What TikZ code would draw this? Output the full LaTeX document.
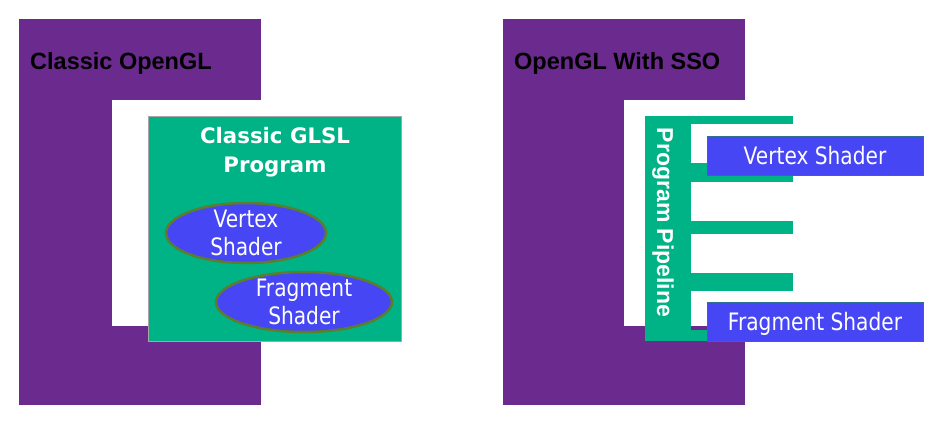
\documentclass[tikz,border=0pt]{standalone}
\usepackage{fontspec}
\setmainfont{Liberation Sans}
\newfontfamily\tahfont[FakeStretch=0.84]{DejaVu Sans}
\newfontfamily\verfont{DejaVu Sans}
\usetikzlibrary{shapes.geometric}
\definecolor{GLPURPLE}{HTML}{6A2A8E}
\definecolor{GLGREEN}{HTML}{00B386}
\definecolor{GLBLUE}{HTML}{4646F5}
\definecolor{GLOLIVE}{HTML}{5B7D2C}
\definecolor{GLEDGE}{HTML}{2F6F8F}

\begin{document}
\begin{tikzpicture}[x=1pt, y=-1pt,
  ctitle/.style={anchor=base west, font=\fontsize{23.5}{28}\selectfont\bfseries, text=black, inner sep=0pt},
  progbox/.style={draw=black!35, line width=0.8pt, fill=GLGREEN, rectangle,
    minimum width=253pt, minimum height=225pt, inner sep=0pt},
  shaderell/.style={ellipse, draw=GLOLIVE, line width=2.5pt, fill=GLBLUE, text=white,
    minimum height=60pt, inner sep=-5pt, align=center, font=\tahfont\fontsize{24}{28}\selectfont},
  shaderbox/.style={rectangle, draw=GLEDGE, line width=0.8pt, fill=GLBLUE, text=white,
    minimum width=216pt, minimum height=39pt, inner sep=0pt, text height=18pt, text depth=0pt,
    font=\tahfont\fontsize{24}{28}\selectfont}
]
\useasboundingbox (0,0) rectangle (951,431);

% classic opengl
\fill[GLPURPLE] (19,19) rectangle (261,405);
\fill[white] (112,100) rectangle (261,326);
\node[ctitle] (classictitle) at (30,69) {Classic OpenGL};

\node[progbox] (glsl) at (274.5,228.5) {};
\node[text=white, align=center, inner sep=0pt,
  font=\verfont\fontsize{21.3}{29}\selectfont\bfseries] (glsltitle) at (275,152) {Classic GLSL\\Program};
\node[shaderell, minimum width=160pt] (vtxell) at (246,233) {Vertex\\Shader};
\node[shaderell, minimum width=176pt] (fragell) at (304,302) {Fragment\\Shader};

% opengl with sso
\fill[GLPURPLE] (503,19) rectangle (745,405);
\fill[white] (624,100) rectangle (745,326);
\node[ctitle] (ssotitle) at (514,69) {OpenGL With SSO};

\fill[GLGREEN] (645,116) rectangle (691,341);
\foreach \ya/\yb in {116/124, 163/182, 221/234, 273/291, 330/341}
  \fill[GLGREEN] (690,\ya) rectangle (793,\yb);
\node[rotate=-90, anchor=base, inner sep=0pt, text=white,
  font=\fontsize{23}{28}\selectfont\bfseries] (pipetxt) at (657,222.5) {Program Pipeline};

\node[shaderbox] (vtxbox) at (815,155.5) {Vertex Shader};
\node[shaderbox] (fragbox) at (815,321.5) {Fragment Shader};
\end{tikzpicture}
\end{document}
